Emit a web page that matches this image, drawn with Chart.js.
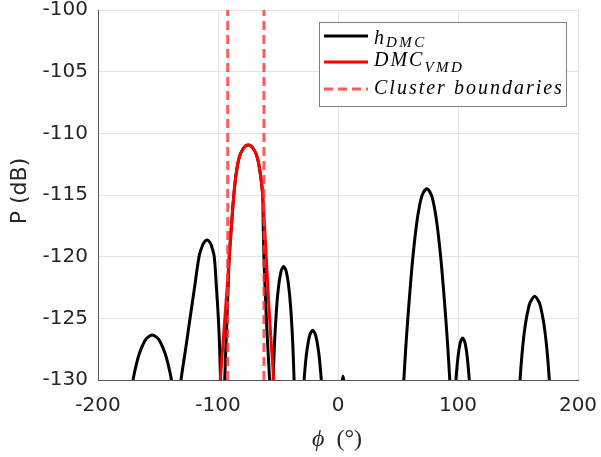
<!DOCTYPE html>
<html>
<head>
<meta charset="utf-8">
<style>html,body{margin:0;padding:0;background:#fff}canvas{display:block}</style>
<script src="https://cdn.jsdelivr.net/npm/chart.js@4.4.0/dist/chart.umd.min.js"></script>
</head>
<body>
<canvas id="c" width="601" height="457"></canvas>
<script>
// ---- data (y = null marks a break between lobes) ----
const phiDMC = [
  -172.5, -170.8, -169.5, -167.05, -165.5, -163.6, -161.1, -159.3, -154.8, -150.3, -148.5, -146.0, -144.1, -142.55, -140.1, -138.8, -137.1,
  -134.0,
  -131.2, -130.8, -127.0, -123.3, -119.5, -115.8, -113.0, -111.0, -108.9, -106.5, -104.5, -103.1, -101.3, -99.7, -98.6, -97.8, -97.5,
  -96.0,
  -94.6, -94.4, -93.5, -92.5, -91.6, -90.6, -88.8, -86.8, -85.1, -82.6, -79.1, -74.8, -70.5, -67.0, -64.5, -62.8, -62.3, -61.7, -60.8, -59.7, -58.4, -57.0, -56.7,
  -55.5,
  -54.4, -54.0, -53.6, -52.8, -51.6, -50.9, -49.96, -48.66, -47.69, -47.01, -45.3, -43.59, -42.91, -41.94, -40.64, -39.7, -38.96, -37.82, -37.0, -36.6, -36.2,
  -32.0,
  -29.0, -28.3, -27.4, -26.4, -24.9, -23.8, -23.0, -21.1, -19.2, -18.4, -17.3, -15.8, -14.8, -13.9, -13.2,
  0.0,
  3.0, 4.2, 5.4,
  30.0,
  54.3, 54.85, 56.4, 58.2, 60.2, 62.45, 65.3, 67.7, 70.2, 74.0, 77.8, 80.3, 82.7, 85.55, 87.8, 89.8, 91.6, 93.15, 93.7,
  96.0,
  97.75, 98.3, 98.6, 99.5, 100.7, 101.6, 102.25, 103.85, 105.45, 106.1, 107.0, 108.2, 109.1, 109.4, 109.95,
  130.0,
  151.1, 151.7, 152.27, 153.08, 154.04, 155.17, 156.65, 158.67, 160.18, 163.9, 167.62, 169.13, 171.15, 172.63, 173.76, 174.72, 175.53, 176.1, 176.7
];
const pDMC = [
  -131.0, -130.0, -129.35, -128.35, -127.85, -127.35, -126.85, -126.6, -126.35, -126.6, -126.85, -127.35, -127.85, -128.35, -129.35, -130.0, -131.0,
  null,
  -131.0, -130.0, -127.5, -125.0, -122.47, -120.0, -119.12, -118.77, -118.65, -118.88, -119.42, -120.0, -122.5, -125.0, -127.5, -130.0, -131.0,
  null,
  -131.0, -130.0, -127.5, -125.0, -122.5, -120.0, -117.5, -115.0, -113.45, -112.05, -111.25, -110.95, -111.25, -112.05, -113.45, -115.0, -117.5, -120.0, -122.5, -125.0, -127.5, -130.0, -131.0,
  null,
  -131.0, -130.0, -128.8, -126.8, -124.8, -123.8, -122.8, -121.8, -121.3, -121.05, -120.8, -121.05, -121.3, -121.8, -122.8, -123.8, -124.8, -126.8, -128.8, -130.0, -131.0,
  null,
  -131.0, -130.0, -128.97, -127.97, -126.97, -126.47, -126.22, -125.97, -126.22, -126.47, -126.97, -127.97, -128.97, -130.0, -131.0,
  null,
  -130.5, -129.7, -130.5,
  null,
  -131.0, -130.0, -127.5, -125.0, -122.5, -120.0, -117.5, -116.0, -115.0, -114.5, -115.0, -116.0, -117.5, -120.0, -122.5, -125.0, -127.5, -130.0, -131.0,
  null,
  -131.0, -130.0, -129.6, -128.6, -127.6, -127.1, -126.85, -126.6, -126.85, -127.1, -127.6, -128.6, -129.6, -130.0, -131.0,
  null,
  -131.0, -130.0, -129.2, -128.2, -127.2, -126.2, -125.2, -124.2, -123.7, -123.2, -123.7, -124.2, -125.2, -126.2, -127.2, -128.2, -129.2, -130.0, -131.0
];
const phiVMD = [-98.5, -98.1, -96.2, -94.3, -92.4, -90.6, -88.8, -86.8, -85.1, -82.6, -79.1, -74.8, -70.5, -67.0,
                -64.5, -62.8, -61.2, -59.8, -58.4, -57.0, -55.3, -53.6, -53.2];
const pVMD   = [-131.0, -130.0, -127.5, -125.0, -122.5, -120.0, -117.5, -115.0, -113.45, -112.05, -111.25, -110.95, -111.25, -112.05,
                -113.45, -115.0, -117.5, -120.0, -122.5, -125.0, -127.5, -130.0, -131.0];
const clusterBounds = [-91.9, -61.7];
const yRange = [-130, -100];
const xRange = [-200, 200];
const seriesLabels = ['h_DMC', 'DMC_VMD', 'Cluster boundaries'];
const yTitle = 'P (dB)';
const xTitleSymbol = 'ϕ';
const xTitleUnit = '  (°)';

// ---- build datasets ----
const toPts = (xs, ys) => xs.map((x, i) => ({x: x, y: ys[i]}));
const clusterPts = [];
clusterBounds.forEach((b, i) => {
  if (i > 0) clusterPts.push({x: (clusterBounds[i - 1] + b) / 2, y: null});
  clusterPts.push({x: b, y: yRange[0]}, {x: b, y: yRange[1]});
});

const COLORS = {dmc: '#000000', vmd: '#ff0000', cl: 'rgba(255,50,50,0.8)'};

const titlesAndLegend = {
  id: 'titlesAndLegend',
  afterDraw(chart) {
    const ctx = chart.ctx;
    // y title
    ctx.save();
    ctx.fillStyle = '#262626';
    ctx.font = '22px "DejaVu Sans"';
    ctx.translate(20, 191);
    ctx.rotate(-Math.PI / 2);
    ctx.textAlign = 'center';
    ctx.textBaseline = 'middle';
    ctx.fillText(yTitle, 0, 0);
    ctx.restore();
    // x title
    ctx.save();
    ctx.fillStyle = '#262626';
    ctx.textBaseline = 'alphabetic';
    ctx.font = 'italic 24px "Liberation Serif"';
    const w1 = ctx.measureText(xTitleSymbol).width;
    ctx.font = '24px "Liberation Serif"';
    const w2 = ctx.measureText(xTitleUnit).width;
    const cx = (chart.chartArea.left + chart.chartArea.right) / 2 - 1;
    const sx = cx - (w1 + w2) / 2;
    ctx.font = 'italic 24px "Liberation Serif"';
    ctx.fillText(xTitleSymbol, sx, 446);
    ctx.font = '24px "Liberation Serif"';
    ctx.fillText(xTitleUnit, sx + w1, 446);
    ctx.restore();
    // legend
    ctx.save();
    ctx.fillStyle = '#ffffff';
    ctx.fillRect(319.5, 22.5, 247, 84);
    ctx.strokeStyle = '#808080';
    ctx.lineWidth = 1;
    ctx.strokeRect(319.5, 22.5, 247, 84);
    const rows = [
      {ds: 0, ly: 36, by: 43.5, sub: 3},
      {ds: 1, ly: 62, by: 66, sub: 6},
      {ds: 2, ly: 89, by: 94, sub: 5}
    ];
    rows.forEach(r => {
      const ds = chart.data.datasets[r.ds];
      ctx.save();
      ctx.strokeStyle = ds.borderColor;
      ctx.lineWidth = 3;
      ctx.setLineDash(ds.borderDash || []);
      ctx.beginPath();
      ctx.moveTo(324, r.ly);
      ctx.lineTo(368, r.ly);
      ctx.stroke();
      ctx.restore();
      const parts = ds.label.split('_');
      ctx.fillStyle = '#000';
      ctx.textBaseline = 'alphabetic';
      ctx.font = 'italic 20px "Liberation Serif"';
      try { ctx.letterSpacing = '2px'; } catch (e) {}
      ctx.fillText(parts[0], 374, r.by);
      const w = ctx.measureText(parts[0]).width;
      if (parts[1]) {
        ctx.font = 'italic 15px "Liberation Serif"';
        try { ctx.letterSpacing = '2.5px'; } catch (e) {}
        ctx.fillText(parts[1], 374 + w, r.by + r.sub);
      }
    });
    ctx.restore();
  }
};

new Chart(document.getElementById('c'), {
  type: 'line',
  data: {
    datasets: [
      {label: seriesLabels[0], data: toPts(phiDMC, pDMC), borderColor: COLORS.dmc, borderWidth: 3,
       pointRadius: 0, tension: 0.3, spanGaps: false, order: 3},
      {label: seriesLabels[1], data: toPts(phiVMD, pVMD), borderColor: COLORS.vmd, borderWidth: 3,
       pointRadius: 0, tension: 0.3, spanGaps: false, order: 2},
      {label: seriesLabels[2], data: clusterPts, borderColor: COLORS.cl, borderWidth: 3,
       borderDash: [9, 5], pointRadius: 0, tension: 0, spanGaps: false, order: 1}
    ]
  },
  options: {
    responsive: false,
    animation: false,
    devicePixelRatio: 1,
    layout: {padding: {top: 10, right: 23, left: 0, bottom: 0}},
    plugins: {legend: {display: false}, tooltip: {enabled: false}},
    scales: {
      x: {
        type: 'linear', min: xRange[0], max: xRange[1],
        ticks: {stepSize: 100, autoSkip: false, maxRotation: 0, padding: 14, color: '#262626',
                font: {family: 'DejaVu Sans', size: 20}},
        grid: {color: '#e4e4e4', drawTicks: false, lineWidth: 1},
        border: {color: '#555555', width: 1},
        afterFit(s) { s.height = 77; s.paddingLeft = 0; s.paddingRight = 0; }
      },
      y: {
        type: 'linear', min: yRange[0], max: yRange[1],
        ticks: {stepSize: 5, autoSkip: false, padding: 10, color: '#262626',
                font: {family: 'DejaVu Sans', size: 20}},
        grid: {color: '#e4e4e4', drawTicks: false, lineWidth: 1},
        border: {color: '#555555', width: 1},
        afterFit(s) { s.width = 98; s.paddingTop = 0; s.paddingBottom = 0; }
      }
    }
  },
  plugins: [titlesAndLegend]
});
</script>
</body>
</html>
